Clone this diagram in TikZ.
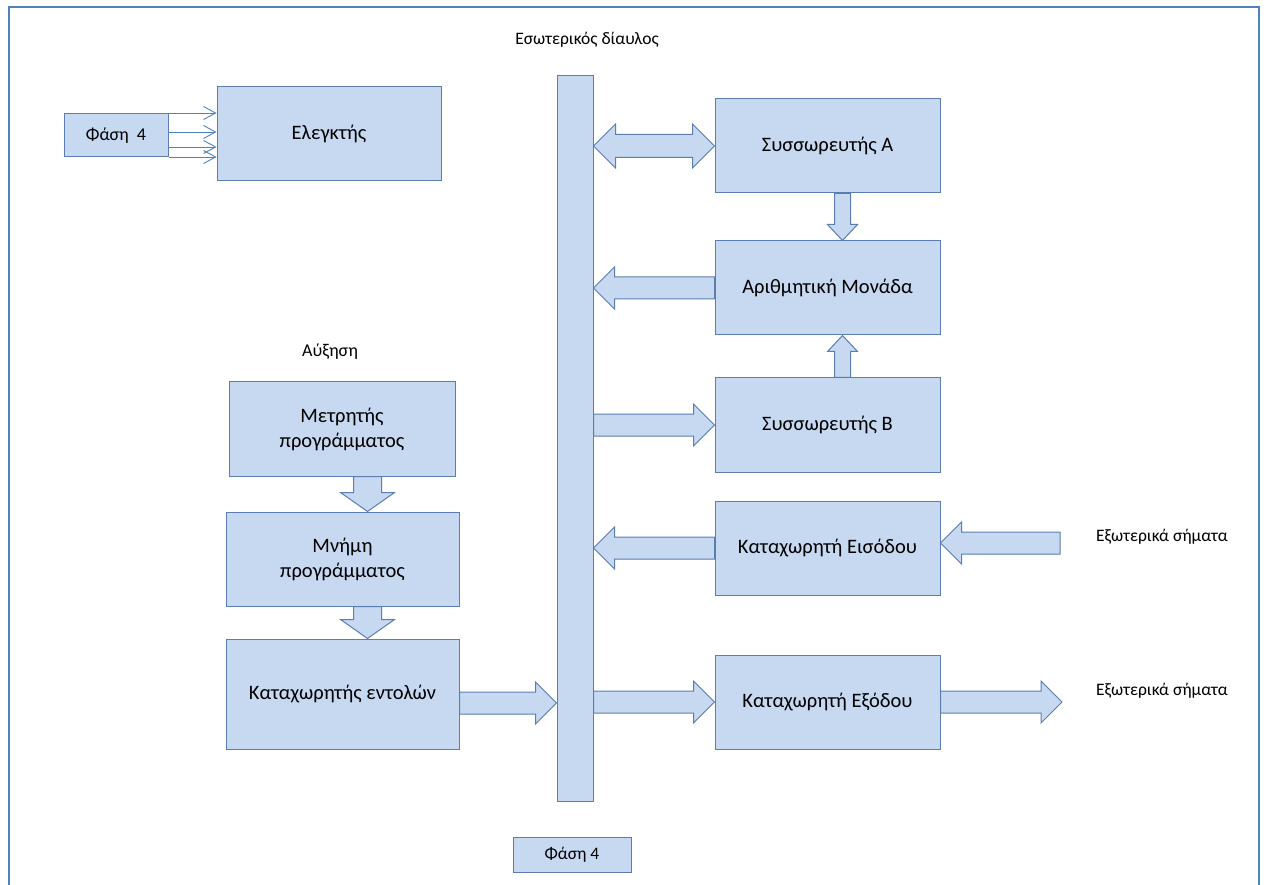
\documentclass[tikz,border=0pt]{standalone}
\usepackage{fontspec}
\setmainfont{Carlito}
\usetikzlibrary{arrows.meta,calc}

\definecolor{boxfill}{HTML}{C6D9F1}
\definecolor{boxline}{HTML}{5B7DB0}
\definecolor{frameblue}{HTML}{4F81BD}

\tikzset{
  unit/.style={draw=boxline, fill=boxfill, line width=1pt, inner sep=0pt,
    align=center, font=\fontsize{20.5}{25}\selectfont},
  note/.style={inner sep=0pt, font=\fontsize{17.5}{21}\selectfont},
  blockarrow/.style={draw=boxline, fill=boxfill, line width=1pt, line join=miter},
  thinarrow/.style={draw=frameblue, line width=0.9pt, -{Straight Barb[length=12pt,width=13pt]}}
}

% horizontal block arrow: from, to, direction (1 right, -1 left)
\newcommand{\hblock}[3]{%
  \draw[blockarrow] let \p1=(#1), \p2=(#2) in
    (\x1,{\y1+11pt}) -- ({\x2-#3*21pt},{\y1+11pt}) -- ({\x2-#3*21pt},{\y1+21pt})
    -- (\x2,\y1) -- ({\x2-#3*21pt},{\y1-21pt}) -- ({\x2-#3*21pt},{\y1-11pt})
    -- (\x1,{\y1-11pt}) -- cycle;}
% vertical block arrow: from, to, direction (1 up, -1 down), shaft, head, length
\newcommand{\vblock}[6]{%
  \draw[blockarrow] let \p1=(#1), \p2=(#2) in
    ({\x1-#4},\y1) -- ({\x1-#4},{\y2-#3*#6}) -- ({\x1-#5},{\y2-#3*#6})
    -- (\x1,\y2) -- ({\x1+#5},{\y2-#3*#6}) -- ({\x1+#4},{\y2-#3*#6})
    -- ({\x1+#4},\y1) -- cycle;}
% double block arrow: left end, right end
\newcommand{\dblock}[2]{%
  \draw[blockarrow] let \p1=(#1), \p2=(#2) in
    (\x1,\y1) -- ({\x1+22pt},{\y1+22pt}) -- ({\x1+22pt},{\y1+11.5pt})
    -- ({\x2-22pt},{\y1+11.5pt}) -- ({\x2-22pt},{\y1+22pt}) -- (\x2,\y1)
    -- ({\x2-22pt},{\y1-22pt}) -- ({\x2-22pt},{\y1-11.5pt})
    -- ({\x1+22pt},{\y1-11.5pt}) -- ({\x1+22pt},{\y1-22pt}) -- cycle;}

\begin{document}
\begin{tikzpicture}[x=1pt,y=-1pt]
  \useasboundingbox (0,0) rectangle (1267,885);
  %Frame
  \draw[frameblue, line width=2.5pt] (9,895) -- (9,7) -- (1259,7) -- (1259,895);

  %Bus
  \node[unit, minimum width=36pt, minimum height=725pt] (bus) at (575,438.5) {};
  \node[note] (bustitle) at (587,40) {Εσωτερικός δίαυλος};
  \node[unit, minimum width=118pt, minimum height=35pt, font=\fontsize{17.5}{21}\selectfont] (faseB) at (572,854.5) {Φάση 4};

  %Controller
  \node[unit, minimum width=104pt, minimum height=43pt, font=\fontsize{18}{21}\selectfont] (faseA) at (116,135.5) {Φάση~~4};
  \node[unit, minimum width=224pt, minimum height=94pt] (ctrl) at (329,134) {Ελεγκτής};
  \foreach \yy in {113,132,147,157}
    \draw[thinarrow] (faseA.east |- 0,\yy) -- (ctrl.west |- 0,\yy);

  %Program side
  \node[note, font=\fontsize{18}{21}\selectfont] (incr) at (330,352) {Αύξηση};
  \node[unit, minimum width=226pt, minimum height=94pt] (pc) at (342,429) {Μετρητής\\προγράμματος};
  \node[unit, minimum width=233pt, minimum height=94pt] (mem) at (342.5,559) {Μνήμη\\προγράμματος};
  \node[unit, minimum width=233pt, minimum height=110pt] (ir) at (342.5,694) {Καταχωρητής εντολών};

  %Register side
  \node[unit, minimum width=225pt, minimum height=94pt] (accA) at (827.5,146) {Συσσωρευτής Α};
  \node[unit, minimum width=225pt, minimum height=94pt] (alu) at (827.5,288) {Αριθμητική Μονάδα};
  \node[unit, minimum width=225pt, minimum height=94pt] (accB) at (827.5,425) {Συσσωρευτής Β};
  \node[unit, minimum width=225pt, minimum height=94pt] (inreg) at (827.5,548) {Καταχωρητή Εισόδου};
  \node[unit, minimum width=225pt, minimum height=94pt] (outreg) at (827.5,702) {Καταχωρητή Εξόδου};
  \node[note] (extin) at (1162,537) {Εξωτερικά σήματα};
  \node[note] (extout) at (1162,691) {Εξωτερικά σήματα};
  \coordinate (insrc) at (1060,543);
  \coordinate (outdst) at (1062,702);
  \coordinate (irout) at ([yshift=-9pt]ir.east);
  \coordinate (aluin) at ([xshift=15pt]alu.north);
  \coordinate (aluinb) at ([xshift=15pt]alu.south);
  \coordinate (memin) at ([xshift=25pt]mem.north);
  \coordinate (irin) at ([xshift=25pt]ir.north);

  %Block arrows
  \dblock{bus.east |- accA.west}{accA.west}
  \hblock{alu.west}{bus.east |- alu.west}{-1}
  \hblock{bus.east |- accB.west}{accB.west}{1}
  \hblock{inreg.west}{bus.east |- inreg.west}{-1}
  \hblock{insrc}{inreg.east |- insrc}{-1}
  \hblock{bus.east |- outreg.west}{outreg.west}{1}
  \hblock{outreg.east}{outdst}{1}
  \hblock{irout}{bus.west |- irout}{1}
  \vblock{aluin |- accA.south}{aluin}{-1}{8pt}{15pt}{16pt}
  \vblock{aluinb |- accB.north}{aluinb}{1}{8pt}{15pt}{16pt}
  \vblock{memin |- pc.south}{memin}{-1}{14pt}{27pt}{19pt}
  \vblock{irin |- mem.south}{irin}{-1}{14pt}{27pt}{19pt}
\end{tikzpicture}
\end{document}
